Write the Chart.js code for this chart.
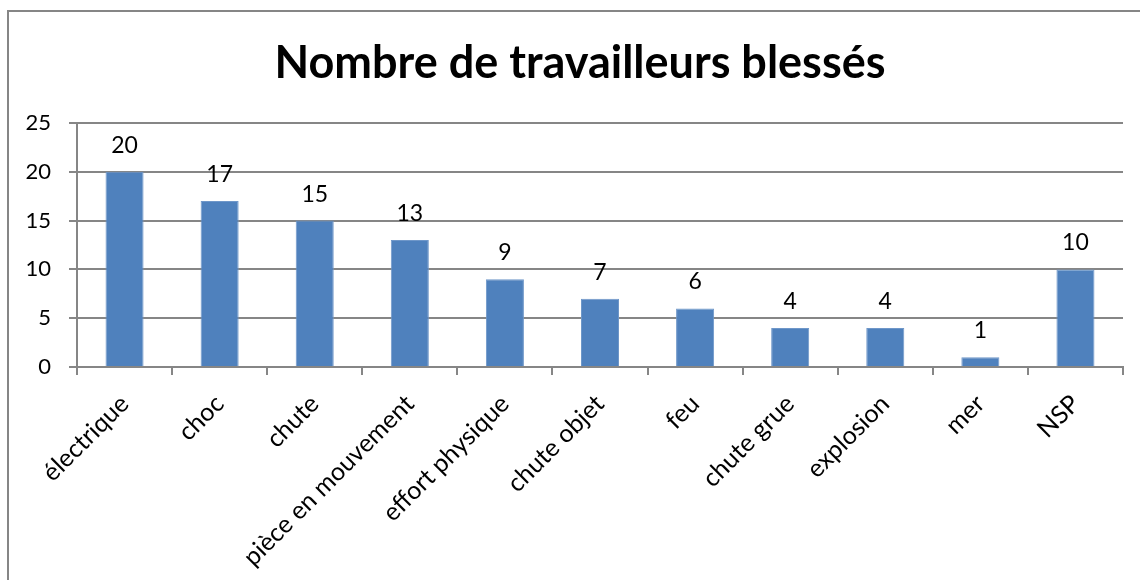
<!DOCTYPE html>
<html lang="fr">
<head>
  <meta charset="UTF-8" />
  <title>Nombre de travailleurs blessés</title>
  <script src="https://cdn.jsdelivr.net/npm/chart.js"></script>
  <style>
    html, body {
      margin: 0;
      padding: 0;
      background: #fff;
      overflow: hidden;
    }
    .frame {
      position: absolute;
      left: 7px;
      top: 10px;
      width: 1200px;
      height: 700px;
      border: 2px solid #868686;
    }
    #chart {
      position: absolute;
      left: 0;
      top: 0;
    }
  </style>
</head>
<body>
  <div class="frame"></div>
  <canvas id="chart" width="1140" height="580"></canvas>

  <script>
    // data
    const chartTitle = 'Nombre de travailleurs blessés';
    const categories = ['électrique', 'choc', 'chute', 'pièce en mouvement', 'effort physique',
      'chute objet', 'feu', 'chute grue', 'explosion', 'mer', 'NSP'];
    const injured = [20, 17, 15, 13, 9, 7, 6, 4, 4, 1, 10];
    const yTicks = [0, 5, 10, 15, 20, 25];

    const FONT = "Lato, 'Open Sans', sans-serif";
    const GREY = '#868686';

    // writes the value above each bar, and the title centred on the whole frame
    const valueLabels = {
      id: 'valueLabels',
      afterDatasetsDraw(chart) {
        const ctx = chart.ctx;
        const meta = chart.getDatasetMeta(0);
        ctx.save();
        ctx.font = '23px ' + FONT;
        ctx.fillStyle = '#000';
        ctx.textAlign = 'center';
        ctx.textBaseline = 'alphabetic';
        meta.data.forEach((bar, i) => {
          ctx.fillText(String(injured[i]), bar.x, bar.y - 19);
        });

        ctx.font = 'bold 45px ' + FONT;
        ctx.textBaseline = 'middle';
        ctx.fillText(chartTitle, chart.width / 2 + 10, 63);
        ctx.restore();
      }
    };

    let ctx = document.getElementById('chart').getContext('2d');
    let chart = new Chart(ctx, {
      type: 'bar',
      data: {
        labels: categories,
        datasets: [{
          label: chartTitle,
          data: injured,
          backgroundColor: '#4F81BD',
          borderColor: '#6F97C9',
          borderWidth: 1,
          barPercentage: 0.4,
          categoryPercentage: 1
        }]
      },
      options: {
        responsive: false,
        animation: false,
        layout: {
          padding: { left: 0, right: 17, top: 123, bottom: 0 }
        },
        scales: {
          x: {
            grid: {
              offset: true,
              drawOnChartArea: false,
              drawTicks: true,
              tickLength: 8,
              color: GREY,
              lineWidth: 2
            },
            border: { color: GREY, width: 2 },
            ticks: {
              autoSkip: false,
              minRotation: 45,
              maxRotation: 45,
              padding: 14,
              color: '#000',
              font: { family: FONT, size: 25 }
            },
            afterFit(scale) {
              scale.height = 213;
            }
          },
          y: {
            min: 0,
            max: 25,
            afterBuildTicks(scale) {
              scale.ticks = yTicks.map(v => ({ value: v }));
            },
            grid: {
              color: GREY,
              lineWidth: 2,
              tickLength: 8
            },
            border: { color: GREY, width: 2 },
            ticks: {
              padding: 18,
              color: '#000',
              font: { family: FONT, size: 22 }
            },
            afterFit(scale) {
              scale.width = 77;
            }
          }
        },
        plugins: {
          legend: { display: false },
          tooltip: { enabled: false },
          title: { display: false }
        }
      },
      plugins: [valueLabels]
    });
  </script>
</body>
</html>
